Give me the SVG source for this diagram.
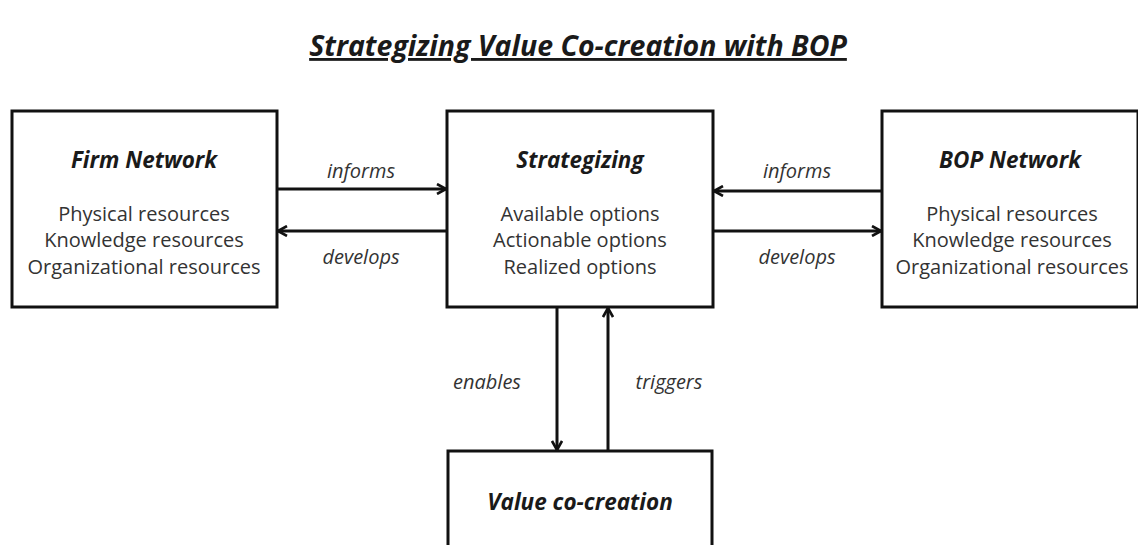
<svg xmlns="http://www.w3.org/2000/svg" width="1138" height="545" viewBox="0 0 1138 545">
<style>
.box{fill:#fff;stroke:#111;stroke-width:3}
.t{font-family:"Open Sans","Liberation Sans",sans-serif;text-anchor:middle}
.h{font-size:22.5px;font-weight:bold;font-style:italic;fill:#1a1a1a}
.b{font-size:20px;fill:#333}
.l{font-size:20px;font-style:italic;fill:#333}
.c{stroke:#111;stroke-width:3;fill:none}
.title{font-size:28.5px;font-weight:bold;font-style:italic;fill:#1a1a1a;text-decoration:underline}
</style>
<defs>
<marker id="ah" viewBox="0 0 12 12" refX="11" refY="6" markerWidth="12" markerHeight="12" markerUnits="userSpaceOnUse" orient="auto">
<path d="M2,1 L11,6 L2,11" fill="none" stroke="#111" stroke-width="2.6"/>
</marker>
</defs>
<rect width="1138" height="545" fill="#fff"/>
<text class="t title" x="578" y="56">Strategizing Value Co-creation with BOP</text>
<g id="firm">
<rect class="box" x="12" y="111" width="265" height="196"/>
<text class="t h" x="144" y="168">Firm Network</text>
<text class="t b" x="144" y="221">Physical resources</text>
<text class="t b" x="144" y="247">Knowledge resources</text>
<text class="t b" x="144" y="274">Organizational resources</text>
</g>
<g id="strategizing">
<rect class="box" x="447" y="111" width="266" height="196"/>
<text class="t h" x="580" y="168">Strategizing</text>
<text class="t b" x="580" y="221">Available options</text>
<text class="t b" x="580" y="247">Actionable options</text>
<text class="t b" x="580" y="274">Realized options</text>
</g>
<g id="bop">
<rect class="box" x="882" y="111" width="256" height="196"/>
<text class="t h" x="1010" y="168">BOP Network</text>
<text class="t b" x="1012" y="221">Physical resources</text>
<text class="t b" x="1012" y="247">Knowledge resources</text>
<text class="t b" x="1012" y="274">Organizational resources</text>
</g>
<g id="value">
<rect class="box" x="448" y="451" width="264" height="110"/>
<text class="t h" x="580" y="510">Value co-creation</text>
</g>
<g id="connectors">
<line class="c" x1="277" y1="189" x2="446" y2="189" marker-end="url(#ah)"/>
<line class="c" x1="447" y1="231" x2="278" y2="231" marker-end="url(#ah)"/>
<line class="c" x1="882" y1="191" x2="714" y2="191" marker-end="url(#ah)"/>
<line class="c" x1="713" y1="231" x2="881" y2="231" marker-end="url(#ah)"/>
<line class="c" x1="557" y1="307" x2="557" y2="450" marker-end="url(#ah)"/>
<line class="c" x1="608" y1="451" x2="608" y2="308" marker-end="url(#ah)"/>
<text class="t l" x="361" y="178">informs</text>
<text class="t l" x="361" y="264">develops</text>
<text class="t l" x="797" y="178">informs</text>
<text class="t l" x="797" y="264">develops</text>
<text class="t l" x="487" y="389">enables</text>
<text class="t l" x="669" y="389">triggers</text>
</g>
</svg>
